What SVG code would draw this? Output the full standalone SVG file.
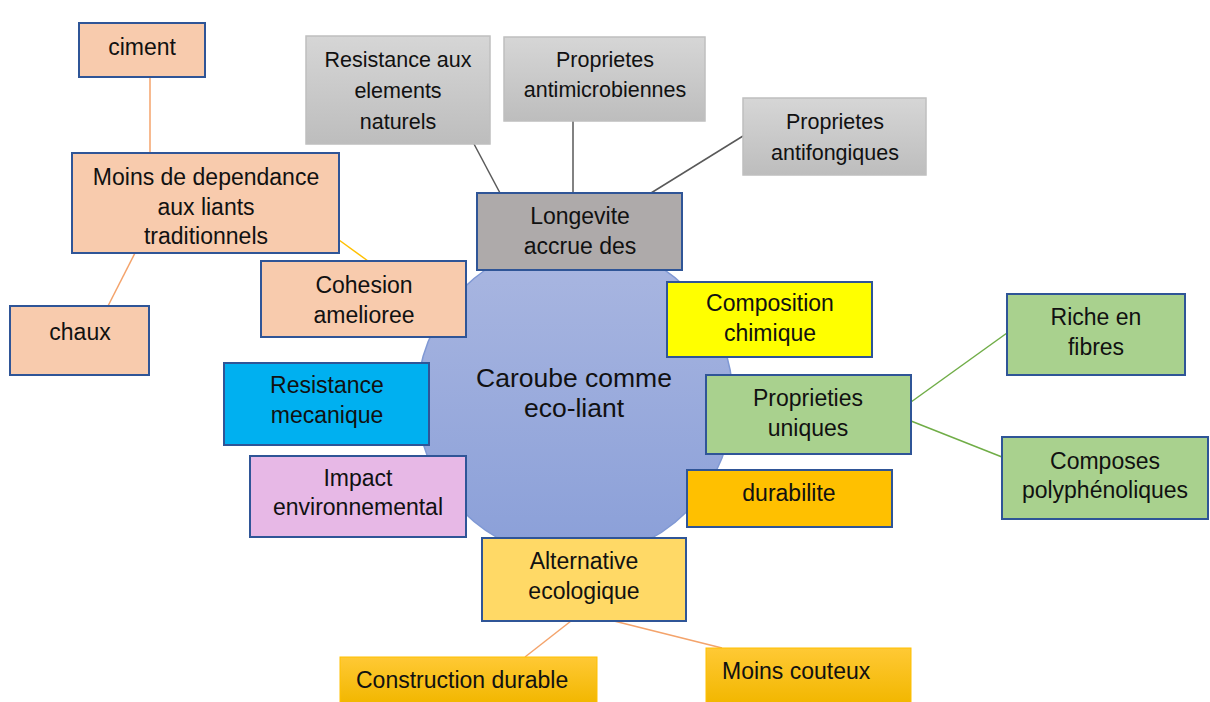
<svg xmlns="http://www.w3.org/2000/svg" width="1210" height="702" viewBox="0 0 1210 702">
<defs>
<linearGradient id="gGray" x1="0" y1="0" x2="0" y2="1"><stop offset="0" stop-color="#d6d6d6"/><stop offset="1" stop-color="#bdbdbd"/></linearGradient>
<linearGradient id="gCircle" x1="0" y1="0" x2="0" y2="1"><stop offset="0" stop-color="#aab7e1"/><stop offset="1" stop-color="#8a9fd8"/></linearGradient>
<linearGradient id="gOrange" x1="0" y1="0" x2="0" y2="1"><stop offset="0" stop-color="#ffc935"/><stop offset="1" stop-color="#f2b700"/></linearGradient>
<style>
text{font-family:"Liberation Sans",Arial,sans-serif;font-size:23px;fill:#111;text-anchor:middle}
.g text{font-size:21.5px}
.ctr text{font-size:26.5px}
.b{stroke:#2f5597;stroke-width:2}
.gr{fill:url(#gGray);stroke:#bfbfbf;stroke-width:1.5}
.peach{fill:#f8cbad}
.c line{stroke-width:1.5}
.or{stroke:#f4a36b}
.dk{stroke:#595959}
.gn{stroke:#70ad47;stroke-width:2.5}
</style>
</defs>
<rect width="1210" height="702" fill="#fff"/>
<g id="connectors" class="c">
<line class="or" x1="150" y1="77" x2="150" y2="153"/>
<line class="or" x1="135" y1="253" x2="108" y2="306"/>
<line x1="339" y1="240" x2="368" y2="261" stroke="#ffc000"/>
<line class="dk" x1="474" y1="144" x2="500" y2="193"/>
<line class="dk" x1="573" y1="121" x2="573" y2="193"/>
<line class="dk" x1="743" y1="136" x2="651" y2="193"/>
<line class="gn" x1="911" y1="402" x2="1007" y2="333"/>
<line class="gn" x1="911" y1="421" x2="1002" y2="457"/>
<line class="or" x1="571" y1="621" x2="525" y2="657"/>
<line class="or" x1="614" y1="621" x2="722" y2="648"/>
</g>
<g id="center" class="ctr"><circle cx="575" cy="400" r="158" fill="url(#gCircle)" stroke="#7f98d4" stroke-width="1.5"/><text x="574" y="387">Caroube comme</text><text x="574" y="417">eco-liant</text></g>
<g id="ciment"><rect class="b peach" x="79" y="23" width="126" height="54"/><text x="142" y="55">ciment</text></g>
<g id="moins-dependance"><rect class="b peach" x="72" y="153" width="267" height="100"/><text x="206" y="185">Moins de dependance</text><text x="206" y="215">aux liants</text><text x="206" y="244">traditionnels</text></g>
<g id="chaux"><rect class="b peach" x="10" y="306" width="139" height="69"/><text x="80" y="340">chaux</text></g>
<g id="cohesion"><rect class="b peach" x="261" y="261" width="205" height="76"/><text x="364" y="293">Cohesion</text><text x="364" y="323">amelioree</text></g>
<g id="resistance-elements" class="g"><rect class="gr" x="306" y="36" width="184" height="108"/><text x="398" y="67">Resistance aux</text><text x="398" y="98">elements</text><text x="398" y="129">naturels</text></g>
<g id="antimicrobiennes" class="g"><rect class="gr" x="504" y="37" width="201" height="84"/><text x="605" y="67">Proprietes</text><text x="605" y="97">antimicrobiennes</text></g>
<g id="antifongiques" class="g"><rect class="gr" x="743" y="98" width="183" height="77"/><text x="835" y="129">Proprietes</text><text x="835" y="160">antifongiques</text></g>
<g id="longevite"><rect class="b" fill="#aeaaaa" x="477" y="193" width="205" height="77"/><text x="580" y="224">Longevite</text><text x="580" y="254">accrue des</text></g>
<g id="composition"><rect class="b" fill="#ffff00" x="667" y="282" width="205" height="75"/><text x="770" y="311">Composition</text><text x="770" y="341">chimique</text></g>
<g id="proprieties"><rect class="b" fill="#a9d18e" x="706" y="375" width="205" height="79"/><text x="808" y="406">Proprieties</text><text x="808" y="436">uniques</text></g>
<g id="durabilite"><rect class="b" fill="#ffc000" x="687" y="470" width="205" height="57"/><text x="789" y="501">durabilite</text></g>
<g id="riche"><rect class="b" fill="#a9d18e" x="1007" y="294" width="178" height="81"/><text x="1096" y="325">Riche en</text><text x="1096" y="355">fibres</text></g>
<g id="composes"><rect class="b" fill="#a9d18e" x="1002" y="437" width="206" height="82"/><text x="1105" y="469">Composes</text><text x="1105" y="498">polyphénoliques</text></g>
<g id="resistance-mecanique"><rect class="b" fill="#00b0f0" x="224" y="363" width="205" height="82"/><text x="327" y="393">Resistance</text><text x="327" y="423">mecanique</text></g>
<g id="impact"><rect class="b" fill="#e7b8e6" x="250" y="456" width="216" height="81"/><text x="358" y="486">Impact</text><text x="358" y="515">environnemental</text></g>
<g id="alternative"><rect class="b" fill="#ffd966" x="482" y="538" width="204" height="83"/><text x="584" y="569">Alternative</text><text x="584" y="599">ecologique</text></g>
<g id="construction"><rect fill="url(#gOrange)" stroke="#ffc000" stroke-width="1" x="340" y="657" width="257" height="46"/><text x="356" y="688" style="text-anchor:start">Construction durable</text></g>
<g id="moins-couteux"><rect fill="url(#gOrange)" stroke="#ffc000" stroke-width="1" x="706" y="648" width="205" height="55"/><text x="722" y="679" style="text-anchor:start">Moins couteux</text></g>
</svg>
